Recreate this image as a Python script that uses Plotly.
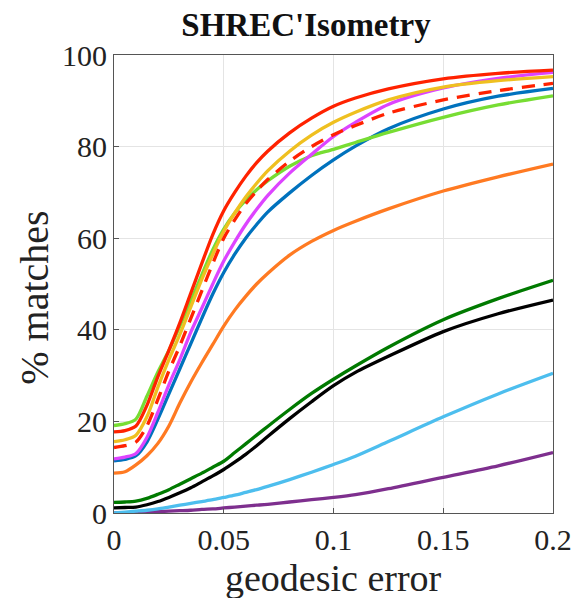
import plotly.graph_objects as go

x = [0, 0.005, 0.01, 0.015, 0.02, 0.025, 0.03, 0.035, 0.04, 0.045, 0.05,
     0.055, 0.06, 0.065, 0.07, 0.08, 0.09, 0.1, 0.11, 0.125, 0.15, 0.175, 0.2]

purple = [0, 0.05, 0.1, 0.2, 0.3, 0.4, 0.5, 0.6, 0.8, 0.9, 1.1,
          1.3, 1.5, 1.7, 1.9, 2.4, 2.9, 3.4, 4.0, 5.3, 7.8, 10.3, 13.2]
light_blue = [0, 0.2, 0.4, 0.6, 0.9, 1.3, 1.7, 2.1, 2.5, 2.9, 3.4,
              3.9, 4.5, 5.1, 5.8, 7.3, 8.9, 10.6, 12.4, 15.6, 21.0, 26.0, 30.5]
black = [1.1, 1.2, 1.3, 1.8, 2.5, 3.4, 4.4, 5.5, 6.8, 8.1, 9.5,
         11.1, 12.8, 14.7, 16.7, 20.6, 24.3, 27.8, 30.7, 34.2, 39.6, 43.5, 46.5]
dark_green = [2.3, 2.4, 2.6, 3.2, 4.1, 5.1, 6.3, 7.5, 8.7, 10.0, 11.3,
              13.2, 15.1, 17.0, 18.9, 22.6, 26.1, 29.2, 32.1, 36.2, 42.2, 46.8, 50.8]
orange = [8.7, 9.0, 10.5, 12.5, 15.2, 19.0, 24.0, 28.6, 32.8, 36.8, 40.8,
          44.3, 47.3, 50.0, 52.3, 56.3, 59.3, 61.7, 63.7, 66.4, 70.3, 73.4, 76.2]
blue = [11.4, 11.7, 12.5, 15.5, 20.5, 26.0, 31.5, 37.0, 42.5, 47.8, 52.5,
        56.5, 60.0, 63.0, 65.7, 69.9, 73.7, 77.1, 80.1, 83.9, 88.2, 91.0, 92.7]
magenta = [11.8, 12.2, 13.0, 16.5, 22.0, 28.0, 33.5, 39.5, 44.7, 50.0, 55.0,
           59.2, 63.0, 66.3, 69.3, 74.2, 78.3, 82.2, 85.3, 89.2, 92.8, 94.9, 96.2]
red_dashed = [14.3, 14.7, 15.5, 19.0, 24.8, 31.0, 36.5, 42.5, 48.5, 54.5, 60.0,
              64.0, 67.5, 70.3, 72.8, 76.8, 80.0, 82.6, 84.6, 87.3, 90.2, 92.2, 93.8]
yellow = [15.6, 16.0, 17.0, 21.0, 27.5, 33.5, 39.0, 45.0, 51.0, 56.5, 61.5,
          65.5, 69.0, 72.0, 74.7, 79.0, 82.5, 85.3, 87.5, 90.2, 93.0, 94.4, 95.3]
lime = [19.1, 19.5, 20.5, 25.5, 30.8, 35.5, 40.8, 46.3, 52.0, 57.5, 62.0,
        65.5, 68.3, 70.6, 72.5, 75.7, 78.0, 79.4, 80.9, 83.1, 86.4, 89.1, 91.1]
red = [17.7, 18.0, 19.0, 23.5, 29.8, 35.5, 41.5, 48.0, 54.5, 60.8, 66.0,
       70.0, 73.5, 76.5, 79.0, 83.0, 86.2, 88.8, 90.6, 92.6, 94.8, 96.0, 96.7]

series = [
    ("purple", purple, "#7E2F8E", "solid"),
    ("light blue", light_blue, "#4DBEEE", "solid"),
    ("black", black, "#000000", "solid"),
    ("dark green", dark_green, "#007a00", "solid"),
    ("orange", orange, "#ff7a22", "solid"),
    ("blue", blue, "#0072BD", "solid"),
    ("lime", lime, "#77dd33", "solid"),
    ("magenta", magenta, "#dd44ff", "solid"),
    ("yellow", yellow, "#efc020", "solid"),
    ("red dashed", red_dashed, "#ff2200", "13px,9px"),
    ("red", red, "#ff2200", "solid"),
]

fig = go.Figure()
for name, ys, color, dash in series:
    fig.add_trace(go.Scatter(x=x, y=ys, mode="lines", name=name,
                             line=dict(color=color, width=3.3, dash=dash,
                                       shape="spline", smoothing=0.8)))

font_family = "Liberation Serif, DejaVu Serif, serif"
axis_common = dict(showline=True, mirror=True, linecolor="#555555", linewidth=1,
                   ticks="inside", ticklen=5, tickcolor="#555555",
                   showgrid=True, gridcolor="#e4e4e4", gridwidth=1, zeroline=False,
                   automargin=False,
                   tickfont=dict(family=font_family, size=30, color="#222222"))

fig.update_layout(
    width=571, height=590,
    margin=dict(l=106, r=26, t=47, b=85),
    paper_bgcolor="white", plot_bgcolor="white",
    showlegend=False,
    title=dict(text="<b>SHREC'Isometry</b>", x=298 / 571, xanchor="center",
               y=1 - 16 / 590, yanchor="middle",
               font=dict(family=font_family, size=33, color="#111111")),
    xaxis=dict(range=[0, 0.2], tickvals=[0, 0.05, 0.1, 0.15, 0.2],
               ticktext=["0", "0.05", "0.1", "0.15", "0.2"], **axis_common),
    yaxis=dict(range=[0, 100], tickvals=[0, 20, 40, 60, 80, 100], **axis_common),
    annotations=[
        dict(text="geodesic error", xref="paper", yref="paper", x=0.5, y=-65 / 458,
             xanchor="center", yanchor="middle", showarrow=False,
             font=dict(family=font_family, size=38, color="#222222")),
        dict(text="% matches", xref="paper", yref="paper", x=-79 / 439, y=0.47,
             xanchor="center", yanchor="middle", showarrow=False, textangle=-90,
             font=dict(family=font_family, size=40, color="#222222")),
    ],
)

fig.write_html("out.html")
